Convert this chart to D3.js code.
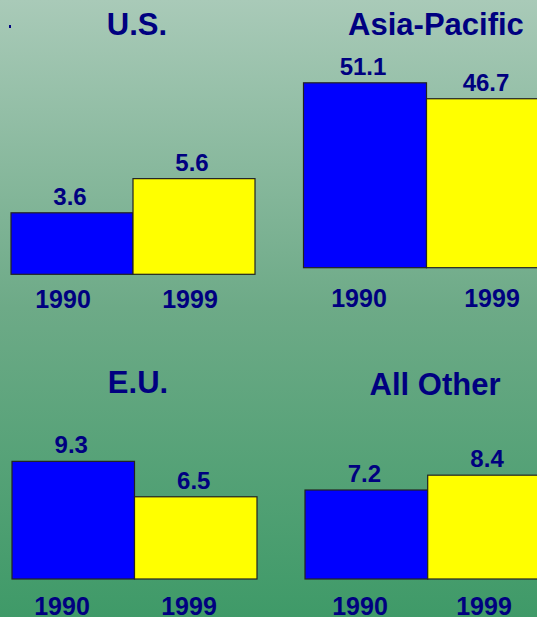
<!DOCTYPE html>
<html>
<head>
<meta charset="utf-8">
<script src="https://cdn.jsdelivr.net/npm/d3@7"></script>
<style>
html,body{margin:0;padding:0;overflow:hidden;}
svg{display:block;}
</style>
</head>
<body>
<svg id="chart" width="537" height="617"></svg>
<script>
const regions = ["U.S.", "Asia-Pacific", "E.U.", "All Other"];
const years = ["1990", "1999"];
const values1990 = [3.6, 51.1, 9.3, 7.2];
const values1999 = [5.6, 46.7, 6.5, 8.4];
const axisMax = [6, 55, 10, 10];

const W = 537, H = 617;
const svg = d3.select("#chart");
const defs = svg.append("defs");
const grad = defs.append("linearGradient").attr("id","bg").attr("x1",0).attr("y1",0).attr("x2",0).attr("y2",1);
grad.append("stop").attr("offset","0%").attr("stop-color","#a9cab8");
grad.append("stop").attr("offset","50%").attr("stop-color","#6daa87");
grad.append("stop").attr("offset","100%").attr("stop-color","#3f9a68");
svg.append("rect").attr("width",W).attr("height",H).attr("fill","url(#bg)");

svg.append("rect").attr("x",9).attr("y",25).attr("width",2).attr("height",3).attr("fill","#000080");

const panels = [
  {x:11, bw:122, base:274.3, h:102.5, tx:137, ty:35, yl:[63,190], yb:308},
  {x:303.5, bw:123, base:267.7, h:199, tx:436, ty:35, yl:[359,492], yb:306.5},
  {x:12, bw:122.5, base:579, h:126.5, tx:138, ty:393, yl:[62,189], yb:615},
  {x:305, bw:122.7, base:579, h:123.6, tx:435, ty:395, yl:[360,484], yb:615}
];

const navy = "#000080";
const font = "'Liberation Sans', Arial, sans-serif";

regions.forEach((name, i) => {
  const p = panels[i];
  const vals = [values1990[i], values1999[i]];
  const x = d3.scaleBand().domain(years).range([p.x, p.x + 2*p.bw]).padding(0);
  const y = d3.scaleLinear().domain([0, axisMax[i]]).range([p.base, p.base - p.h]);
  const g = svg.append("g");
  g.selectAll("rect.bar").data(years).enter().append("rect")
    .attr("class","bar")
    .attr("x", d => x(d))
    .attr("y", (d,j) => y(vals[j]))
    .attr("width", x.bandwidth())
    .attr("height", (d,j) => y(0) - y(vals[j]))
    .attr("fill", (d,j) => j === 0 ? "#0000ff" : "#ffff00")
    .attr("stroke", "#222")
    .attr("stroke-width", 1.2);
  g.selectAll("text.val").data(years).enter().append("text")
    .attr("x", d => x(d) + x.bandwidth()/2 - 2)
    .attr("y", (d,j) => y(vals[j]) - 8)
    .attr("text-anchor","middle")
    .attr("font-family", font).attr("font-weight","bold").attr("font-size", 24)
    .attr("fill", navy)
    .text((d,j) => vals[j].toFixed(1));
  g.selectAll("text.yr").data(years).enter().append("text")
    .attr("x", (d,j) => p.yl[j])
    .attr("y", p.yb)
    .attr("text-anchor","middle")
    .attr("font-family", font).attr("font-weight","bold").attr("font-size", 25)
    .attr("fill", navy)
    .text(d => d);
  g.append("text")
    .attr("x", p.tx).attr("y", p.ty)
    .attr("text-anchor","middle")
    .attr("font-family", font).attr("font-weight","bold").attr("font-size", 31)
    .attr("fill", navy)
    .text(name);
});
</script>
</body>
</html>
